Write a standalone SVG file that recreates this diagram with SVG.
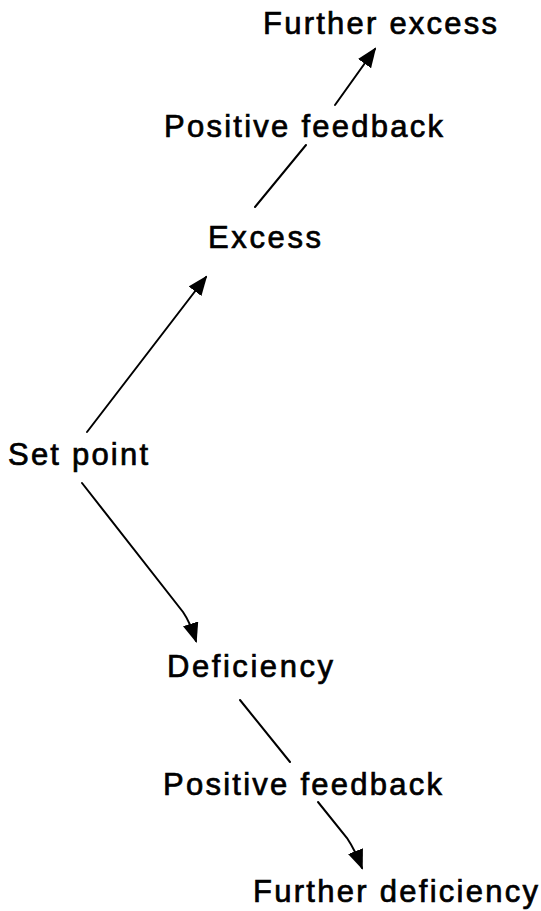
<svg xmlns="http://www.w3.org/2000/svg" width="541" height="911" viewBox="0 0 541 911">
<style>
text{font-family:"Liberation Sans",Arial,sans-serif;font-size:31px;fill:#000;stroke:#000;stroke-width:0.7}
.c{stroke:#000;stroke-width:2;fill:none;stroke-linecap:round}
</style>
<defs>
<marker id="ah" markerWidth="10" markerHeight="8" refX="9" refY="4" orient="auto" markerUnits="strokeWidth">
<path d="M0,0 L10,4 L0,8 z" fill="#000"/>
</marker>
</defs>
<rect width="541" height="911" fill="#fff"/>
<g id="connectors">
<line class="c" x1="255" y1="207" x2="306" y2="145"/>
<line class="c" x1="335" y1="105" x2="375" y2="49" marker-end="url(#ah)"/>
<line class="c" x1="87" y1="432" x2="206" y2="277" marker-end="url(#ah)"/>
<path class="c" d="M82,483 L183,612 Q190,622 196,641" marker-end="url(#ah)"/>
<line class="c" x1="240" y1="700" x2="290" y2="762"/>
<path class="c" d="M318,802 L347,838 Q355,850 362,868" marker-end="url(#ah)"/>
</g>
<g id="further-excess"><text x="263" y="34" textLength="234" lengthAdjust="spacing">Further excess</text></g>
<g id="positive-feedback-top"><text x="164" y="137" textLength="279" lengthAdjust="spacing">Positive feedback</text></g>
<g id="excess"><text x="208" y="248" textLength="113" lengthAdjust="spacing">Excess</text></g>
<g id="set-point"><text x="8" y="465" textLength="140" lengthAdjust="spacing">Set point</text></g>
<g id="deficiency"><text x="167" y="677" textLength="166" lengthAdjust="spacing">Deficiency</text></g>
<g id="positive-feedback-bottom"><text x="163" y="795" textLength="279" lengthAdjust="spacing">Positive feedback</text></g>
<g id="further-deficiency"><text x="253" y="902" textLength="285" lengthAdjust="spacing">Further deficiency</text></g>
</svg>
